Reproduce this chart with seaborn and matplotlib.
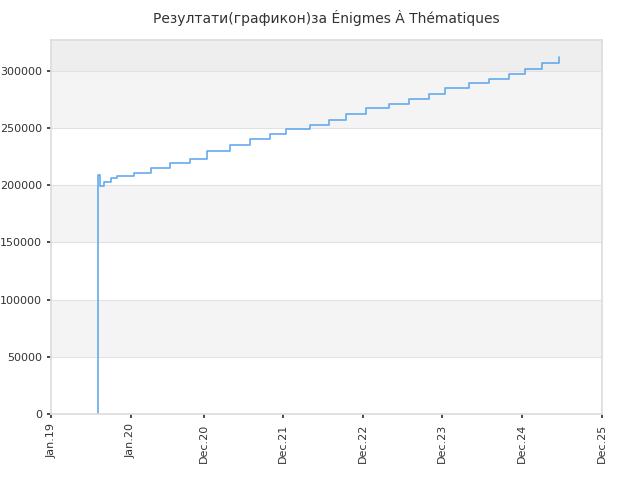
import matplotlib
matplotlib.use("Agg")
import matplotlib.pyplot as plt
import matplotlib.dates as mdates
import seaborn as sns
import pandas as pd

dates = ["2019-08-01","2019-08-02","2019-08-08","2019-08-15","2019-09-01","2019-10-01","2019-11-01","2019-12-15",
         "2020-01-15","2020-04-01","2020-07-01","2020-10-01","2020-12-15","2021-04-01","2021-07-01","2021-10-01",
         "2021-12-15","2022-04-01","2022-07-01","2022-09-15","2022-12-15","2023-04-01","2023-07-01","2023-10-01",
         "2023-12-15","2024-04-01","2024-07-01","2024-10-01","2024-12-15","2025-03-01","2025-05-20"]
values = [0,209000,209000,199000,203000,206000,208000,208500,
          211000,215000,219000,223000,230000,235000,240000,244500,
          249000,253000,257000,262000,267600,271000,275000,280000,
          285000,289000,293000,297500,301800,307000,312000]

df = pd.DataFrame({"date": pd.to_datetime(dates), "value": values})

sns.set_theme(style="white")
fig, ax = plt.subplots(figsize=(6.4, 4.8), dpi=100)
fig.subplots_adjust(left=0.08, right=0.94, top=0.917, bottom=0.137)

ymax = 327000
bands = [(50000,100000,"#f4f4f4"),(150000,200000,"#f4f4f4"),(250000,300000,"#f4f4f4"),(300000,ymax,"#eeeeee")]
for lo, hi, c in bands:
    ax.axhspan(lo, hi, color=c, zorder=0, lw=0)
for y in range(50000, 300001, 50000):
    ax.axhline(y, color="#e2e2e2", lw=0.8, zorder=0.5)

sns.lineplot(data=df, x="date", y="value", ax=ax, color="#66aaee", lw=1.2, drawstyle="steps-post")

ax.set_ylim(0, ymax)
ax.set_xlim(pd.Timestamp("2019-01-01"), pd.Timestamp("2025-12-01"))
ticks = pd.to_datetime(["2019-01-01","2020-01-01","2020-12-01","2021-12-01","2022-12-01","2023-12-01","2024-12-01","2025-12-01"])
ax.set_xticks(ticks)
ax.set_xticklabels(["Jan.19","Jan.20","Dec.20","Dec.21","Dec.22","Dec.23","Dec.24","Dec.25"], rotation=90)
ax.set_yticks(range(0, 300001, 50000))
ax.tick_params(labelsize=8, colors="#333333", length=3)
ax.tick_params(axis="x", bottom=True)
ax.tick_params(axis="y", left=True)
for s in ax.spines.values():
    s.set_color("#dddddd")
ax.set_xlabel(""); ax.set_ylabel("")
ax.set_title("Резултати(графикон)за Énigmes À Thématiques", fontsize=10, color="#333333", pad=12)
fig.savefig("out.png", dpi=100)
